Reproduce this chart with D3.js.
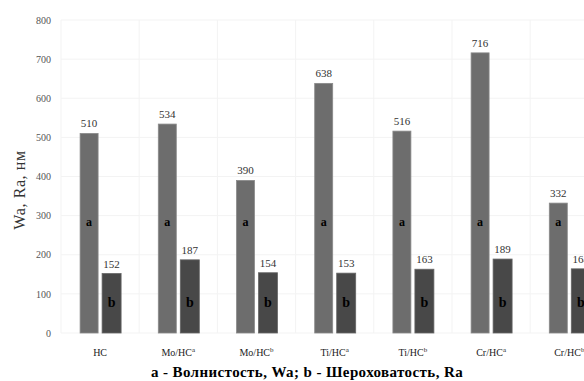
<!DOCTYPE html>
<html><head><meta charset="utf-8">
<script src="https://cdn.jsdelivr.net/npm/d3@7/dist/d3.min.js"></script>
<style>body{margin:0;background:#fff}svg{display:block}text{font-family:"Liberation Serif","DejaVu Serif",serif}</style>
</head><body><svg id="c" width="584" height="381"></svg>
<script>
const categories = ["HC", "Mo/HC", "Mo/HC", "Ti/HC", "Ti/HC", "Cr/HC", "Cr/HC"];
const superscripts = ["", "a", "b", "a", "b", "a", "b"];
const waValues = [510, 534, 390, 638, 516, 716, 332];
const raValues = [152, 187, 154, 153, 163, 189, 164];
const yTicks = [0, 100, 200, 300, 400, 500, 600, 700, 800];
const yTitle = "Wa, Ra, нм";
const xTitle = "a - Волнистость, Wa; b - Шероховатость, Ra";

const svg = d3.select("#c");
const x = d3.scaleBand().domain(d3.range(categories.length)).range([61, 608.4]).padding(0);
const y = d3.scaleLinear().domain([0, 800]).range([333, 20]);

// grid
svg.append("g").selectAll("line").data(yTicks).join("line")
  .attr("x1", 61).attr("x2", 584).attr("y1", d => y(d)).attr("y2", d => y(d))
  .attr("stroke", "#f3f3f3").attr("stroke-width", 1);
svg.append("g").selectAll("line").data(d3.range(categories.length + 1)).join("line")
  .attr("x1", d => 61 + d * x.step()).attr("x2", d => 61 + d * x.step())
  .attr("y1", y(800)).attr("y2", y(0))
  .attr("stroke", "#f3f3f3").attr("stroke-width", 1);

// y axis labels
const yAxis = d3.axisLeft(y).tickValues(yTicks).tickSize(0).tickPadding(0);
const ya = svg.append("g").attr("transform", "translate(51,0)").call(yAxis)
  .attr("font-family", null);
ya.select(".domain").remove();
ya.selectAll("text").attr("font-size", 10).attr("fill", "#555");

const bw = 18;
const g = svg.append("g");
categories.forEach((c, i) => {
  const cx = x(i) + x.bandwidth() / 2;
  g.append("rect").attr("x", cx - 20).attr("width", bw).attr("y", y(waValues[i])).attr("height", y(0) - y(waValues[i]))
    .attr("fill", "#6d6d6d").attr("stroke", "#8a8a8a").attr("stroke-width", 0.8);
  g.append("rect").attr("x", cx + 2).attr("width", bw + 1).attr("y", y(raValues[i])).attr("height", y(0) - y(raValues[i]))
    .attr("fill", "#484848").attr("stroke", "#666").attr("stroke-width", 0.8);
  g.append("text").attr("x", cx - 11).attr("y", y(waValues[i]) - 6).attr("text-anchor", "middle")
    .attr("font-size", 11).attr("fill", "#333").text(waValues[i]);
  g.append("text").attr("x", cx + 11.5).attr("y", y(raValues[i]) - 6).attr("text-anchor", "middle")
    .attr("font-size", 11).attr("fill", "#333").text(raValues[i]);
  g.append("text").attr("x", cx - 11).attr("y", 226).attr("text-anchor", "middle")
    .attr("font-size", 12).attr("font-weight", "bold").attr("fill", "#000").text("a");
  g.append("text").attr("x", cx + 11.5).attr("y", 307).attr("text-anchor", "middle")
    .attr("font-size", 14).attr("font-weight", "bold").attr("fill", "#000").text("b");
  const t = g.append("text").attr("x", cx).attr("y", 356).attr("text-anchor", "middle")
    .attr("font-size", 10).attr("fill", "#222");
  t.append("tspan").text(c);
  if (superscripts[i]) t.append("tspan").attr("dy", -4).attr("font-size", 7).text(superscripts[i]);
});

svg.append("text").attr("transform", "translate(25,190) rotate(-90)").attr("text-anchor", "middle")
  .attr("font-size", 16).attr("letter-spacing", 0.6).attr("fill", "#333").text(yTitle);
svg.append("text").attr("x", 307).attr("y", 377).attr("text-anchor", "middle")
  .attr("font-size", 15).attr("letter-spacing", 0.4).attr("font-weight", "bold").attr("fill", "#000").text(xTitle);
</script></body></html>
